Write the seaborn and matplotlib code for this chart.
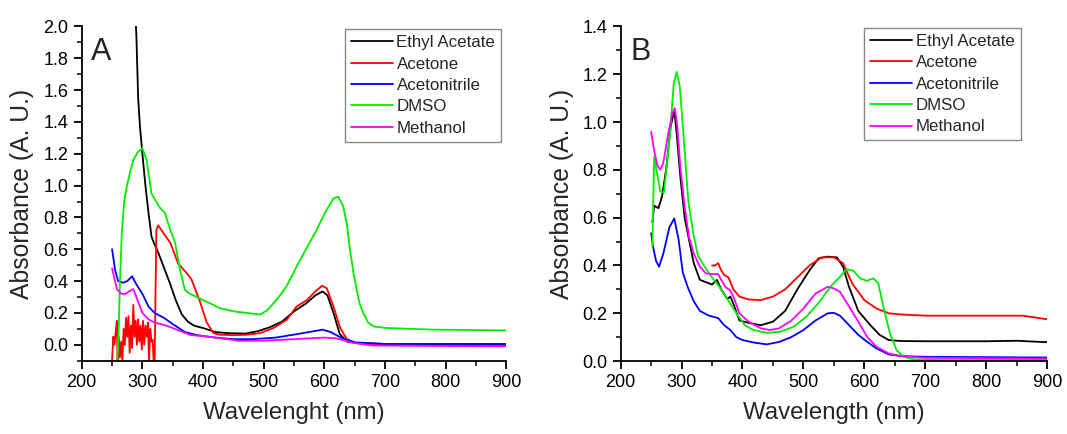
import numpy as np
import pandas as pd
import seaborn as sns
import matplotlib
matplotlib.use("Agg")
import matplotlib.pyplot as plt
from matplotlib.ticker import MultipleLocator

solvents = ["Ethyl Acetate", "Acetone", "Acetonitrile", "DMSO", "Methanol"]
colors = ["#000000", "#ff0000", "#0000ff", "#00ee00", "#ff00ff"]

# ---------------- Panel A ----------------
a_ethyl_x = [286, 288, 290, 293, 296, 300, 305, 310, 315, 320, 325, 335, 345, 355, 365, 375, 385, 400, 420, 440,
             470, 490, 510, 530, 550, 570, 585, 597, 605, 615, 625, 637, 655, 700, 800, 900]
a_ethyl_y = [2.4, 2.1, 1.95, 1.55, 1.37, 1.2, 1.0, 0.83, 0.68, 0.63, 0.59, 0.49, 0.39, 0.28, 0.19, 0.145, 0.12, 0.105,
             0.08, 0.073, 0.07, 0.085, 0.11, 0.145, 0.21, 0.26, 0.31, 0.335, 0.31, 0.2, 0.07, 0.02, 0.01, 0.005, 0.005, 0.005]

a_acetone_x = [250, 252, 254, 256, 258, 259, 261, 263, 265, 267, 269, 271, 273, 275, 277, 279, 281, 283, 285, 287,
               289, 291, 293, 295, 297, 299, 301, 303, 305, 307, 309, 311, 313, 315, 317, 319, 320, 323, 326,
               335, 346, 359, 373, 381, 395, 406, 417, 428, 450, 472, 494, 516, 538, 554, 571, 585, 596, 604,
               615, 626, 637, 653, 700, 800, 900]
a_acetone_y = [-0.1, 0.05, 0.0, 0.08, 0.15, -0.1, 0.05, -0.08, 0.02, -0.1, 0.1, 0.0, 0.17, 0.05, 0.18, -0.05, 0.12,
               -0.02, 0.25, 0.05, 0.15, 0.0, 0.16, 0.02, 0.12, -0.03, 0.15, 0.0, 0.12, 0.05, 0.14, -0.1, 0.1, 0.02,
               0.03, -0.15, -0.15, 0.72, 0.75, 0.70, 0.64, 0.51, 0.45, 0.41, 0.27, 0.14, 0.073, 0.063, 0.06, 0.063,
               0.073, 0.105, 0.157, 0.24, 0.28, 0.335, 0.37, 0.355, 0.24, 0.105, 0.035, 0.01, 0.0, -0.005, -0.005]

a_acn_x = [250, 255, 260, 268, 275, 283, 290, 300, 310, 320, 335, 350, 370, 390, 420, 450, 480, 520, 560, 590, 597,
           610, 630, 650, 700, 900]
a_acn_y = [0.6, 0.47, 0.40, 0.39, 0.40, 0.43, 0.38, 0.32, 0.24, 0.2, 0.17, 0.13, 0.08, 0.06, 0.045, 0.035, 0.035,
           0.045, 0.07, 0.09, 0.095, 0.08, 0.04, 0.015, 0.005, 0.005]

a_dmso_x = [258, 261, 263, 266, 270, 274, 280, 285, 292, 300, 307, 315, 321, 329, 337, 346, 354, 362, 370, 376, 384,
            406, 428, 450, 472, 494, 505, 516, 527, 538, 554, 571, 587, 601, 615, 623, 631, 637, 642, 648, 653, 658,
            664, 672, 681, 703, 780, 900]
a_dmso_y = [-0.15, 0.1, 0.4, 0.7, 0.9, 0.99, 1.09, 1.16, 1.21, 1.235, 1.16, 0.95, 0.91, 0.86, 0.83, 0.72, 0.64,
            0.47, 0.345, 0.325, 0.31, 0.27, 0.23, 0.21, 0.20, 0.19, 0.215, 0.26, 0.31, 0.37, 0.49, 0.61, 0.72, 0.83,
            0.92, 0.93, 0.87, 0.76, 0.60, 0.45, 0.35, 0.26, 0.20, 0.14, 0.115, 0.105, 0.095, 0.09]

a_meoh_x = [250, 258, 265, 272, 280, 285, 292, 300, 310, 320, 340, 360, 380, 400, 430, 460, 500, 550, 600, 620, 650,
            680, 900]
a_meoh_y = [0.48, 0.35, 0.32, 0.32, 0.34, 0.35, 0.28, 0.2, 0.16, 0.14, 0.12, 0.09, 0.06, 0.055, 0.04, 0.025, 0.025,
            0.035, 0.045, 0.04, 0.01, -0.005, -0.01]

# ---------------- Panel B ----------------
b_ethyl_x = [252, 255, 262, 268, 275, 282, 288, 292, 298, 305, 312, 320, 330, 340, 350, 358, 365, 375, 380, 385, 395,
             410, 430, 450, 470, 490, 510, 525, 540, 555, 565, 575, 590, 610, 625, 640, 660, 700, 800, 850, 900]
b_ethyl_y = [0.58, 0.65, 0.64, 0.69, 0.81, 0.98, 1.05, 0.95, 0.77, 0.60, 0.51, 0.41, 0.34, 0.33, 0.32, 0.34, 0.30,
             0.26, 0.27, 0.24, 0.17, 0.16, 0.15, 0.165, 0.21, 0.30, 0.38, 0.43, 0.437, 0.434, 0.395, 0.31, 0.21,
             0.15, 0.11, 0.088, 0.084, 0.083, 0.083, 0.085, 0.079]

b_acetone_x = [350, 355, 360, 365, 370, 377, 385, 395, 410, 430, 450, 470, 490, 510, 530, 550, 565, 580, 600, 620,
               640, 660, 700, 800, 860, 900]
b_acetone_y = [0.40, 0.40, 0.41, 0.38, 0.36, 0.35, 0.30, 0.27, 0.258, 0.255, 0.27, 0.30, 0.35, 0.40, 0.434, 0.434,
               0.41, 0.325, 0.255, 0.22, 0.20, 0.195, 0.19, 0.19, 0.19, 0.175]

b_acn_x = [250, 253, 258, 263, 270, 280, 288, 295, 302, 310, 320, 330, 345, 360, 370, 380, 390, 400, 420, 440, 460,
           480, 500, 520, 540, 550, 560, 575, 590, 605, 620, 640, 660, 700, 900]
b_acn_y = [0.535, 0.48, 0.42, 0.395, 0.45, 0.56, 0.597, 0.51, 0.37, 0.31, 0.25, 0.21, 0.19, 0.18, 0.15, 0.13, 0.10,
           0.088, 0.077, 0.07, 0.08, 0.10, 0.13, 0.17, 0.20, 0.202, 0.19, 0.15, 0.11, 0.08, 0.053, 0.028, 0.021,
           0.018, 0.015]

b_dmso_x = [252, 255, 265, 271, 281, 287, 292, 297, 303, 311, 319, 327, 338, 349, 360, 369, 380, 390, 404, 418, 440,
            462, 484, 505, 527, 544, 560, 571, 582, 593, 604, 615, 623, 631, 642, 653, 664, 681, 900]
b_dmso_y = [0.48, 0.855, 0.71, 0.705, 0.95, 1.16, 1.21, 1.15, 0.95, 0.67, 0.535, 0.44, 0.395, 0.353, 0.318, 0.283,
            0.24, 0.20, 0.15, 0.13, 0.118, 0.123, 0.144, 0.186, 0.25, 0.31, 0.353, 0.384, 0.378, 0.346, 0.336,
            0.346, 0.325, 0.23, 0.116, 0.046, 0.018, 0.007, 0.005]

b_meoh_x = [250, 255, 260, 265, 270, 278, 285, 289, 293, 298, 305, 312, 320, 330, 340, 350, 360, 365, 372, 380, 385,
            395, 410, 430, 445, 460, 480, 500, 520, 540, 550, 560, 575, 590, 605, 620, 640, 660, 700, 900]
b_meoh_y = [0.96, 0.88, 0.82, 0.80, 0.83, 0.95, 1.04, 1.058, 0.98, 0.81, 0.646, 0.52, 0.45, 0.395, 0.367, 0.364,
            0.364, 0.34, 0.31, 0.295, 0.27, 0.20, 0.165, 0.137, 0.13, 0.137, 0.169, 0.22, 0.283, 0.311, 0.304,
            0.29, 0.228, 0.165, 0.10, 0.06, 0.032, 0.021, 0.014, 0.01]


def build(series):
    frames = []
    for name, (xs, ys) in zip(solvents, series):
        frames.append(pd.DataFrame({"wl": xs, "abs": ys, "solvent": name}))
    return pd.concat(frames, ignore_index=True)


df_a = build([(a_ethyl_x, a_ethyl_y), (a_acetone_x, a_acetone_y), (a_acn_x, a_acn_y),
              (a_dmso_x, a_dmso_y), (a_meoh_x, a_meoh_y)])
df_b = build([(b_ethyl_x, b_ethyl_y), (b_acetone_x, b_acetone_y), (b_acn_x, b_acn_y),
              (b_dmso_x, b_dmso_y), (b_meoh_x, b_meoh_y)])

sns.set_style("ticks")
plt.rcParams["font.family"] = ["Liberation Sans", "DejaVu Sans"]

fig = plt.figure(figsize=(10.67, 4.34), dpi=100)
ax_a = fig.add_axes([0.0766, 0.169, 0.398, 0.770])
ax_b = fig.add_axes([0.5817, 0.168, 0.3996, 0.771])

palette = dict(zip(solvents, colors))

panels = [
    (ax_a, df_a, (-0.1, 2.0), "Wavelenght (nm)", "A", (0.988, 0.992)),
    (ax_b, df_b, (0.0, 1.4), "Wavelength (nm)", "B", (0.938, 0.996)),
]

for ax, df, ylim, xlabel, letter, anchor in panels:
    sns.lineplot(data=df, x="wl", y="abs", hue="solvent", hue_order=solvents, palette=palette,
                 estimator=None, sort=False, linewidth=1.3, ax=ax, legend=True)
    ax.set_xlim(200, 900)
    ax.set_ylim(*ylim)
    ax.xaxis.set_major_locator(MultipleLocator(100))
    ax.xaxis.set_minor_locator(MultipleLocator(50))
    ax.yaxis.set_major_locator(MultipleLocator(0.2))
    ax.yaxis.set_minor_locator(MultipleLocator(0.1))
    ax.yaxis.set_major_formatter(matplotlib.ticker.FormatStrFormatter("%.1f"))
    ax.tick_params(which="major", direction="out", length=6, width=1.3, labelsize=13, color="black",
                   labelcolor="black")
    ax.tick_params(which="minor", direction="out", length=3.5, width=1.1, color="black")
    for side in ["top", "right"]:
        ax.spines[side].set_visible(False)
    for side in ["left", "bottom"]:
        ax.spines[side].set_linewidth(1.3)
        ax.spines[side].set_color("black")
    ax.set_xlabel(xlabel, fontsize=17.3, labelpad=8)
    ax.set_ylabel("Absorbance (A. U.)", fontsize=17.8, labelpad=4)
    ax.text(0.022, 0.925, letter, transform=ax.transAxes, fontsize=22, va="center", ha="left")
    handles, labels = ax.get_legend_handles_labels()
    leg = ax.legend(handles, labels, loc="upper right", bbox_to_anchor=anchor, fontsize=12.2,
                    frameon=True, fancybox=False, edgecolor="#888888", framealpha=1,
                    handlelength=2.5, handletextpad=0.2, labelspacing=0.38, borderpad=0.35,
                    borderaxespad=0.0)
    leg.get_frame().set_linewidth(1.0)

ax_a.yaxis.set_label_coords(-0.113, 0.5)
ax_b.yaxis.set_label_coords(-0.110, 0.5)

fig.savefig("out.png", dpi=100)
